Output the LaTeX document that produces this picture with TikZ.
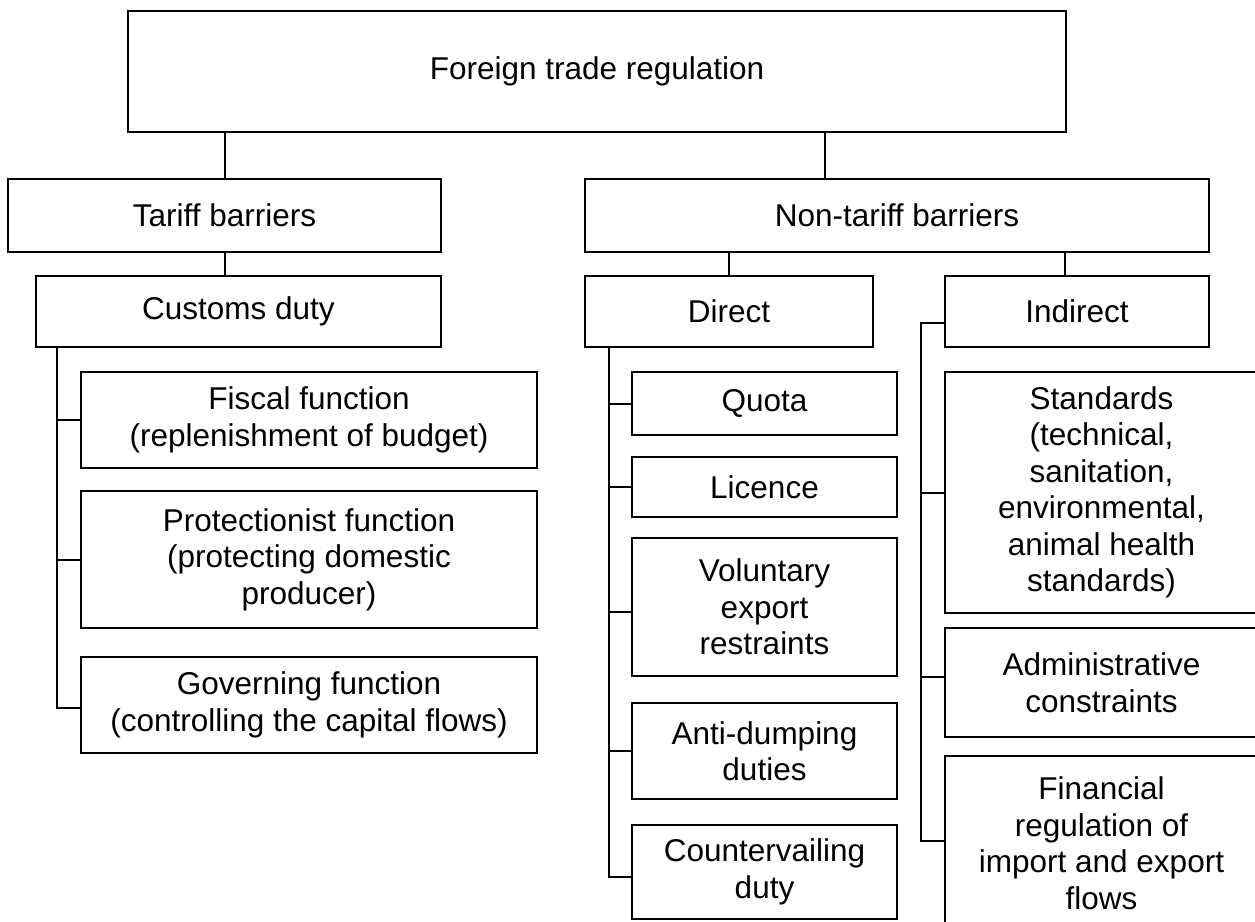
\documentclass[tikz,border=0pt]{standalone}
\usepackage{fontspec}
\setmainfont{Liberation Sans}
\begin{document}
\begin{tikzpicture}[x=1pt,y=-1pt,
  box/.style={draw,line width=2pt,inner sep=0pt,align=center,
    font=\fontsize{31.5}{36.5}\selectfont},
  conn/.style={line width=2pt}]
\useasboundingbox (0,0) rectangle (1255,921);
% anchor coordinates for vertical connectors
\coordinate (t1) at (57,0);
\coordinate (t2) at (609,0);
\coordinate (t3) at (921,0);
\coordinate (c1) at (825,0);
\coordinate (c2) at (1065,0);
% level 0
\node[box,minimum width=938pt,minimum height=121pt] (top) at (597,71.5) {Foreign trade regulation};
% level 1
\node[box,minimum width=433pt,minimum height=73pt] (tariff) at (224.5,215.5) {Tariff barriers};
\node[box,minimum width=624pt,minimum height=73pt] (nontariff) at (897,215.5) {Non-tariff barriers};
% level 2
\node[box,minimum width=405pt,minimum height=71pt] (customs) at (238.5,311.5) {Customs duty};
\node[box,minimum width=288pt,minimum height=71pt] (direct) at (729,311.5) {Direct};
\node[box,minimum width=264pt,minimum height=71pt] (indirect) at (1077,311.5) {Indirect};
% customs duty children
\node[box,minimum width=456pt,minimum height=96pt] (fiscal) at (309,420) {Fiscal function\\(replenishment of budget)};
\node[box,minimum width=456pt,minimum height=137pt] (protect) at (309,559.5) {Protectionist function\\(protecting domestic\\producer)};
\node[box,minimum width=456pt,minimum height=96pt] (govern) at (309,705) {Governing function\\(controlling the capital flows)};
% direct children
\node[box,minimum width=265pt,minimum height=63pt] (quota) at (764.5,403.5) {Quota};
\node[box,minimum width=265pt,minimum height=60pt] (licence) at (764.5,487) {Licence};
\node[box,minimum width=265pt,minimum height=138pt] (vol) at (764.5,607) {Voluntary\\export\\restraints};
\node[box,minimum width=265pt,minimum height=96pt] (anti) at (764.5,751) {Anti-dumping\\duties};
\node[box,minimum width=265pt,minimum height=94pt] (counter) at (764.5,872) {Countervailing\\duty};
% indirect children
\node[box,minimum width=313pt,minimum height=241pt] (standards) at (1101.5,492.5) {Standards\\(technical,\\sanitation,\\environmental,\\animal health\\standards)};
\node[box,minimum width=313pt,minimum height=109pt] (admin) at (1101.5,682.5) {Administrative\\constraints};
\node[box,minimum width=313pt,minimum height=174pt] (financial) at (1101.5,843) {Financial\\regulation of\\import and export\\flows};
% connectors
\draw[conn] (top.south -| tariff.north) -- (tariff.north);
\draw[conn] (top.south -| c1) -- (nontariff.north -| c1);
\draw[conn] (tariff.south) -- (tariff.south |- customs.north);
\draw[conn] (direct.north |- nontariff.south) -- (direct.north);
\draw[conn] (nontariff.south -| c2) -- (indirect.north -| c2);
% customs duty trunk
\draw[conn] (customs.south -| t1) |- ([yshift=-3pt]govern.west);
\draw[conn] (t1 |- fiscal.west) -- (fiscal.west);
\draw[conn] (t1 |- protect.west) -- (protect.west);
% direct trunk
\draw[conn] (direct.south -| t2) |- ([yshift=-5pt]counter.west);
\draw[conn] (t2 |- quota.west) -- (quota.west);
\draw[conn] (t2 |- licence.west) -- (licence.west);
\draw[conn] ([yshift=-5pt]vol.west -| t2) -- ([yshift=-5pt]vol.west);
\draw[conn] (t2 |- anti.west) -- (anti.west);
% indirect trunk
\draw[conn] ([yshift=-11.5pt]indirect.west) -| ([yshift=2pt]financial.west -| t3) -- ([yshift=2pt]financial.west);
\draw[conn] (t3 |- standards.west) -- (standards.west);
\draw[conn] ([yshift=6pt]admin.west -| t3) -- ([yshift=6pt]admin.west);
\end{tikzpicture}
\end{document}
